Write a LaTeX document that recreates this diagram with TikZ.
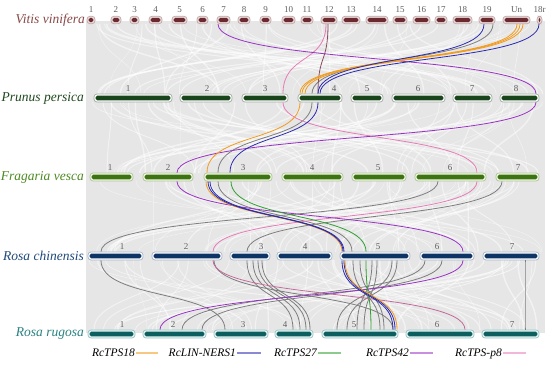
\documentclass[tikz,border=0pt]{standalone}
\usepackage{fontspec}
\setmainfont{Liberation Serif}
\usetikzlibrary{positioning}
\definecolor{vitdark}{HTML}{6B2A30}
\definecolor{vitedge}{HTML}{C4A8A8}
\definecolor{vitfill}{HTML}{EADCDC}
\definecolor{vitlab}{HTML}{8A4848}
\definecolor{prudark}{HTML}{18451A}
\definecolor{pruedge}{HTML}{A3ADA3}
\definecolor{prulab}{HTML}{1E4A1E}
\definecolor{fradark}{HTML}{3D7412}
\definecolor{fraedge}{HTML}{B2C498}
\definecolor{frafill}{HTML}{F1F6E6}
\definecolor{fralab}{HTML}{4E8A22}
\definecolor{chidark}{HTML}{0E3466}
\definecolor{chiedge}{HTML}{A6B6C8}
\definecolor{chilab}{HTML}{1F487A}
\definecolor{rugdark}{HTML}{0D5F5F}
\definecolor{rugedge}{HTML}{98C6C6}
\definecolor{rugfill}{HTML}{E6F4F4}
\definecolor{ruglab}{HTML}{2A8282}
\definecolor{tpsorange}{HTML}{F29B1C}
\definecolor{linblue}{HTML}{2B2BB0}
\definecolor{tpsgreen}{HTML}{30A030}
\definecolor{tpspurple}{HTML}{9B32C8}
\definecolor{tpspink}{HTML}{E87CB8}
\definecolor{linkgray}{HTML}{7E7E7E}
\definecolor{linkmaroon}{HTML}{8B4A5C}
\definecolor{numgray}{HTML}{5E5E5E}
\definecolor{bggray}{HTML}{E6E6E6}
\tikzset{
  chrom/.style n args={3}{rectangle, rounded corners=3pt, draw=#2, fill=#3,
    line width=0.7pt, minimum height=8pt, inner sep=0pt,
    path picture={\fill[#1, rounded corners=1.6pt]
      ([xshift=1.6pt,yshift=-1.7pt]path picture bounding box.north west) rectangle
      ([xshift=-1.6pt,yshift=1.7pt]path picture bounding box.south east);}},
  chrnum/.style={font=\fontsize{9}{9}\selectfont, text=numgray, inner sep=0pt},
  species/.style={font=\fontsize{13.5}{15}\selectfont\itshape, anchor=east, inner sep=0pt},
  synlink/.style={line width=0.8pt, color=#1},
  streak/.style={white, opacity=0.5},
  legtext/.style={font=\fontsize{11.5}{13}\selectfont\itshape, anchor=east, inner sep=1pt,
    text height=8pt, text depth=0pt},
  legline/.style={line width=1.4pt, color=#1, opacity=0.55},
}
\newcommand{\lnk}[5][linkgray]{%
  \draw[synlink=#1] (#2.south -| #3,0) .. controls +(0,40) and +(0,-40) .. (#4.north -| #5,0);}

\begin{document}
\begin{tikzpicture}[x=1pt, y=-1pt]
  \useasboundingbox[fill=white] (0,0) rectangle (550,366);

  % synteny background
  \fill[bggray] (86,21) rectangle (545,333);
  \pgfmathsetseed{17}
  \foreach \ya/\yb in {24/94,102/173,181/252,260/330}{
    \foreach \k in {1,...,60}{
      \pgfmathsetmacro\xa{88+455*rnd}
      \pgfmathsetmacro\xb{88+455*rnd}
      \pgfmathsetmacro\w{0.3+1.2*rnd}
      \draw[streak, line width=\w pt] (\xa,\ya) .. controls (\xa,{(\ya+\yb)/2}) and (\xb,{(\ya+\yb)/2}) .. (\xb,\yb);
    }
  }

  % species
  \node[species, text=vitlab] (vitis) at (85,20) {Vitis vinifera};
  \node[species, text=prulab] (prunus) at (84,98) {Prunus persica};
  \node[species, text=fralab] (fragaria) at (84,177) {Fragaria vesca};
  \node[species, text=chilab] (chinensis) at (84,256) {Rosa chinensis};
  \node[species, text=ruglab] (rugosa) at (84,334) {Rosa rugosa};

  % chromosomes
  \foreach \n/\a/\b in {1/87/95,2/111/121,3/130/139,4/149/162,5/172/187,6/197/208,7/217/230,8/238/250,9/260/271,10/282/295,11/301/313,12/321/337,13/342/360,14/366/388,15/393/407,16/413/430,17/435/447,18/453/472,19/479/495,Un/503/530,18r/537/542}{
    \node[chrom={vitdark}{vitedge}{vitfill}, minimum width={(\b-\a)*1pt}, minimum height=7.5pt] (v\n) at ({(\a+\b)/2},20) {};
    \node[chrnum] (vn\n) at ({(\a+\b)/2},10) {\n};
  }
  \foreach \n/\a/\b/\l in {1/94/172/128,2/180/232/207,3/242/288/265,4/298/342/334,5/351/383/367,6/392/445/418,7/453/492/472,8/500/539/516}{
    \node[chrom={prudark}{pruedge}{white}, minimum width={(\b-\a)*1pt}] (p\n) at ({(\a+\b)/2},98) {};
    \node[chrnum] (pn\n) at (\l,89) {\n};
  }
  \foreach \n/\a/\b/\l in {1/90/133/110,2/143/193/168,3/204/272/243,4/282/343/312,5/352/406/378,6/415/486/450,7/496/539/518}{
    \node[chrom={fradark}{fraedge}{frafill}, minimum width={(\b-\a)*1pt}] (f\n) at ({(\a+\b)/2},177) {};
    \node[chrnum] (fn\n) at (\l,168) {\n};
  }
  \foreach \n/\a/\b/\l in {1/88/143/122,2/152/222/186,3/230/270/261,4/277/332/305,5/340/410/378,6/420/474/437,7/483/539/512}{
    \node[chrom={chidark}{chiedge}{white}, minimum width={(\b-\a)*1pt}] (c\n) at ({(\a+\b)/2},256) {};
    \node[chrnum] (cn\n) at (\l,247) {\n};
  }
  \foreach \n/\a/\b/\l in {1/88/135/122,2/143/206/173,3/214/268/243,4/275/313/285,5/322/398/354,6/406/474/437,7/482/539/512}{
    \node[chrom={rugdark}{rugedge}{rugfill}, minimum width={(\b-\a)*1pt}] (r\n) at ({(\a+\b)/2},334) {};
    \node[chrnum] (rn\n) at (\l,325) {\n};
  }

  % gray links
  \lnk{v19}{493}{p4}{312}
  \lnk{p4}{312}{f3}{218}
  \lnk{f3}{218}{c5}{352}
  \lnk{f6}{438}{c1}{101}
  \lnk{f7}{502}{c3}{247}
  \lnk{c1}{101}{r3}{225}
  \lnk{c2}{214}{r5}{393}
  \lnk{c3}{247}{r4}{293}
  \lnk{c3}{253}{r4}{300}
  \lnk{c3}{258}{r4}{306}
  \lnk{c3}{262}{r4}{310}
  \lnk{c5}{353}{r5}{380}
  \lnk{c5}{360}{r5}{384}
  \lnk{c5}{372}{r5}{357}
  \lnk{c5}{377}{r5}{364}
  \lnk{c5}{392}{r5}{337}
  \lnk{c5}{397}{r5}{347}
  \lnk{c6}{425}{r2}{182}
  \lnk{c6}{442}{r2}{202}
  \lnk{c7}{525}{r7}{525}

  % coloured links
  \lnk[linkmaroon]{v12}{328}{p4}{318}
  \lnk[tpspink]{v12}{326}{p3}{283}
  \lnk[tpspink]{p3}{283}{f6}{477}
  \lnk[tpspink]{f6}{477}{c2}{213}
  \lnk[tpspink!85!black]{c2}{213}{r6}{465}
  \lnk[tpspurple]{v7}{218}{p8}{536}
  \lnk[tpspurple]{p8}{536}{f2}{177}
  \lnk[tpspurple]{f2}{177}{c6}{463}
  \lnk[tpspurple]{c6}{463}{r2}{160}
  \lnk[tpsorange]{vUn}{517}{p4}{300}
  \lnk[tpsorange]{vUn}{520}{p4}{302}
  \lnk[tpsorange]{vUn}{523}{p4}{305}
  \lnk[linblue]{v19}{484}{p4}{318}
  \lnk[linblue]{v18r}{539}{p4}{320}
  \lnk[tpsorange]{p4}{300}{f3}{207}
  \lnk[linblue]{p4}{318}{f3}{230}
  \lnk[tpsorange]{f3}{206}{c5}{342}
  \lnk[linblue]{f3}{208}{c5}{343}
  \lnk[linblue]{f3}{210}{c5}{344}
  \lnk[tpsgreen]{f3}{231}{c5}{366}
  \lnk[tpsgreen]{c5}{366}{r5}{371}
  \lnk[linblue]{c5}{342}{r5}{393}
  \lnk[linblue]{c5}{344}{r5}{395}
  \lnk[tpsorange]{c5}{345}{r5}{397}

  % legend
  \node[legtext] (lg18) at (136,353) {RcTPS18};
  \draw[legline=tpsorange] (lg18.east) -- ++(22,0);
  \node[legtext] (lglin) at (237,353) {RcLIN-NERS1};
  \draw[legline=linblue] (lglin.east) -- ++(24,0);
  \node[legtext] (lg27) at (318,353) {RcTPS27};
  \draw[legline=tpsgreen] (lg27.east) -- ++(23,0);
  \node[legtext] (lg42) at (410,353) {RcTPS42};
  \draw[legline=tpspurple] (lg42.east) -- ++(23,0);
  \node[legtext] (lgp8) at (503,353) {RcTPS-p8};
  \draw[legline=tpspink] (lgp8.east) -- ++(23,0);
\end{tikzpicture}
\end{document}
